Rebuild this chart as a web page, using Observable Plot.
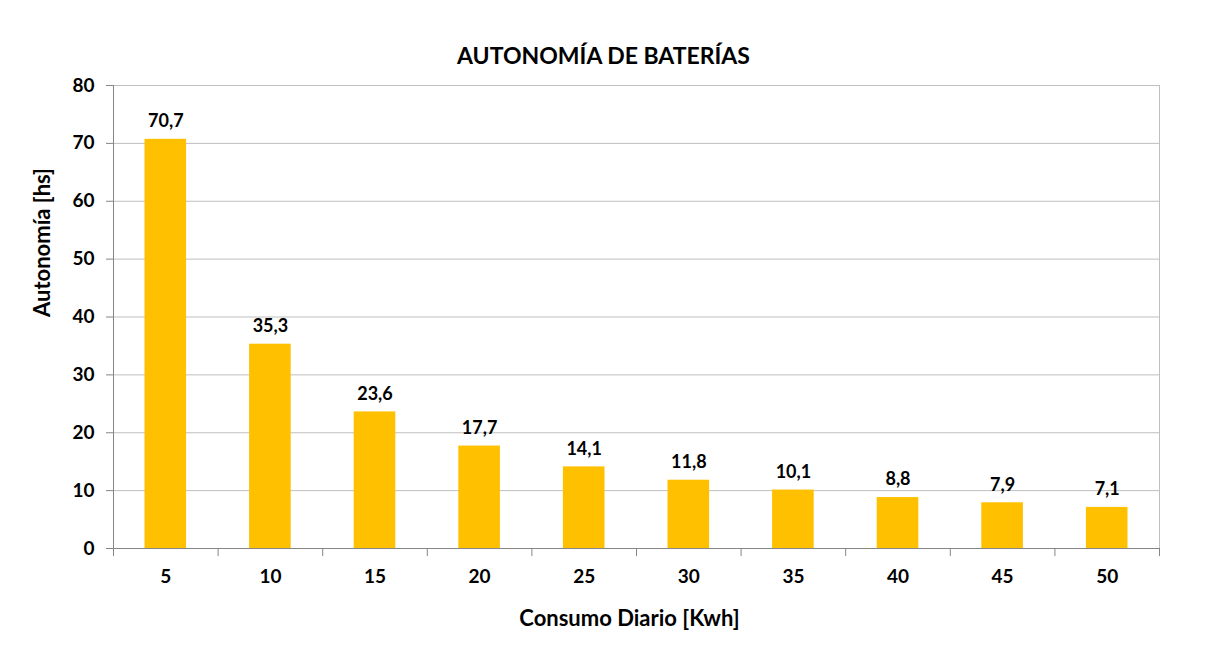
<!DOCTYPE html>
<html>
<head>
<meta charset="utf-8">
<script src="https://cdn.jsdelivr.net/npm/d3@7"></script>
<script src="https://cdn.jsdelivr.net/npm/@observablehq/plot@0.6"></script>
<style>
  body { margin: 0; background: #fff; }
  #chart svg { display: block; }
</style>
</head>
<body>
<div id="chart"></div>
<script>
const consumo = ["5", "10", "15", "20", "25", "30", "35", "40", "45", "50"];
const autonomia = [70.7, 35.3, 23.6, 17.7, 14.1, 11.8, 10.1, 8.8, 7.9, 7.1];
const yTicks = [0, 10, 20, 30, 40, 50, 60, 70, 80];
const title = "AUTONOMÍA DE BATERÍAS";
const xLabel = "Consumo Diario [Kwh]";
const yLabel = "Autonomía [hs]";

const data = consumo.map((c, i) => ({c, v: autonomia[i]}));
const fmt = v => v.toFixed(1).replace(".", ",");

const W = 1217, H = 657;
const mL = 113, mR = 58, mT = 85, mB = 109;
const step = (W - mL - mR) / consumo.length;
const half = step / 2;
const tickLen = -1.4;
const font = "Lato, 'Open Sans', sans-serif";

const chart = Plot.plot({
  width: W,
  height: H,
  marginLeft: mL,
  marginRight: mR,
  marginTop: mT,
  marginBottom: mB,
  style: {fontFamily: font, background: "#fff"},
  x: {domain: consumo, padding: 0, round: false, label: null},
  y: {domain: [0, 80], label: null},
  marks: [
    Plot.gridY(yTicks, {stroke: "#bfbfbf", strokeOpacity: 1}),
    Plot.barY(data, {x: "c", y: "v", fill: "#FFC000", insetLeft: 31.5, insetRight: 31.5}),
    // right border
    Plot.ruleX([consumo[consumo.length - 1]], {dx: half, y1: 80, y2: 0, stroke: "#bfbfbf"}),
    // baseline
    Plot.ruleY([0], {stroke: "#868686"}),
    // left axis line
    Plot.ruleX([consumo[0]], {dx: -half, y1: 80, y2: tickLen, stroke: "#868686"}),
    // category boundary ticks
    Plot.ruleX(consumo.slice(1), {dx: -half, y1: 0, y2: tickLen, stroke: "#868686"}),
    Plot.ruleX([consumo[consumo.length - 1]], {dx: half, y1: 0, y2: tickLen, stroke: "#868686"}),
    Plot.axisY(yTicks, {tickSize: 7, tickPadding: 12, stroke: "#868686", fill: "black", fontSize: 19, fontWeight: "bold", label: null}),
    Plot.axisX({tickSize: 0, tickPadding: 21, fill: "black", fontSize: 19, fontWeight: "bold", label: null}),
    Plot.text(data, {x: "c", y: "v", text: d => fmt(d.v), dy: -18, fontSize: 18, fontWeight: "bold", fill: "black"}),
    Plot.text([title], {frameAnchor: "top", dy: -38, dx: -33, fontSize: 23, fontWeight: "bold", fill: "black"}),
    Plot.text([xLabel], {frameAnchor: "bottom", dy: 77, dx: -7, fontSize: 22, fontWeight: "bold", fill: "black"}),
    Plot.text([yLabel], {frameAnchor: "left", dx: -71, rotate: -90, fontSize: 22, fontWeight: "bold", fill: "black"})
  ]
});
document.getElementById("chart").appendChild(chart);
</script>
</body>
</html>
